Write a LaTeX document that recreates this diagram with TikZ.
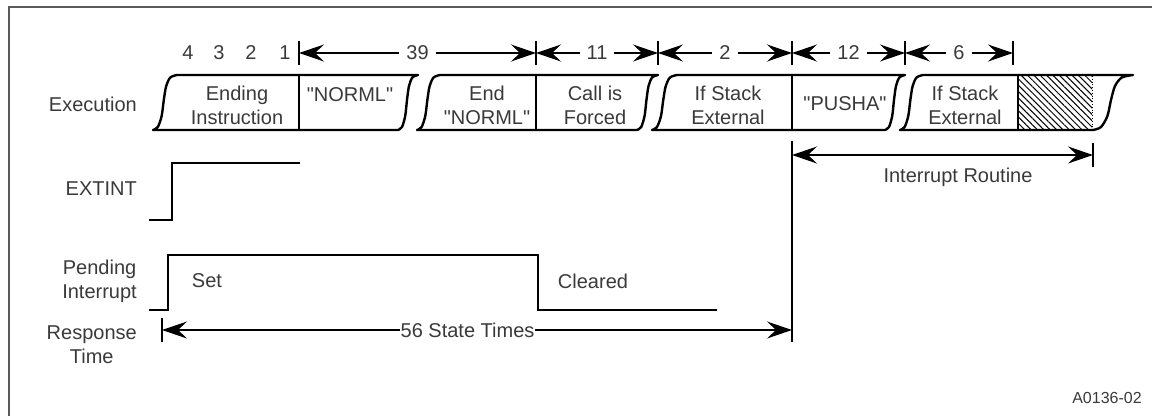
\documentclass[tikz,border=0pt]{standalone}
\usepackage{fontspec}
\setmainfont{Liberation Sans}[Ligatures=TeXOff]
\usetikzlibrary{arrows.meta,patterns.meta}
\definecolor{txt}{HTML}{3A3A3A}
\newcommand{\dq}{{\char34}}
\begin{document}
\begin{tikzpicture}[x=1pt,y=-1pt,
  lbl/.style={font=\fontsize{20}{24}\selectfont, text=txt, inner sep=0pt, align=center},
  seg/.style={line width=2.4pt, line join=round},
  divider/.style={line width=2pt},
  sig/.style={line width=2.8pt, line join=miter},
  tickline/.style={line width=1.4pt},
  dimline/.style={line width=1.4pt,
    {Stealth[length=25pt,width=17pt,inset=9pt]}-{Stealth[length=25pt,width=17pt,inset=9pt]}},
  gap/.style={fill=white, inner xsep=7pt, inner ysep=2pt}]
\useasboundingbox (0,0) rectangle (1152,416);
% frame
\draw[line width=2.6pt, black!65] (9,416) -- (9,7) -- (1152,7);

% hatched area
\fill[pattern={Lines[angle=-45,distance=4.5pt,line width=1pt]}] (1018,76) rectangle (1092,129);
\draw[line width=0.8pt, dotted] (1092,76) -- (1092,129);

% execution segments
\foreach \a/\b/\c/\d in {153/177/418/398, 417/440/658/637, 652/677/905/885, 900/923/1133/1093}{
  \draw[seg] plot[smooth,tension=.5] coordinates {(\a,130) ({\a+.2*(\b-\a)},127) ({\a+.36*(\b-\a)},116) ({\a+.45*(\b-\a)},100) ({\a+.55*(\b-\a)},86) ({\a+.72*(\b-\a)},77.5) (\b,75)}
   -- (\c,75) -- plot[smooth,tension=.5] coordinates {(\c,75) ({\d+.72*(\c-\d)},77.5) ({\d+.55*(\c-\d)},86) ({\d+.45*(\c-\d)},100) ({\d+.36*(\c-\d)},116) ({\d+.2*(\c-\d)},127) (\d,130)} -- cycle;
}
% dividers
\foreach \x in {299,536,792,1018}{\draw[divider] (\x,75) -- (\x,130);}

% texts inside
\node[lbl] (t1) at (237,105) {Ending\\Instruction};
\node[lbl] (t2) at (350,95) {\dq NORML\dq};
\node[lbl] (t3) at (487,105) {End\\\dq NORML\dq};
\node[lbl] (t4) at (595,105) {Call is\\Forced};
\node[lbl] (t5) at (728,105) {If Stack\\External};
\node[lbl] (t6) at (845,104) {\dq PUSHA\dq};
\node[lbl] (t7) at (965,105) {If Stack\\External};

% row labels
\node[lbl, anchor=east] (lex) at (137,104) {Execution};
\node[lbl, anchor=east] (lei) at (137,189) {EXTINT};
\node[lbl, anchor=east] (lpi) at (137,281) {Pending\\Interrupt};
\node[lbl, anchor=east] (lrt) at (137,345) {Response\\Time};

% top count
\node[lbl] (n4) at (188,53) {4};
\node[lbl] (n3) at (219,53) {3};
\node[lbl] (n2) at (251,53) {2};
\node[lbl] (n1) at (285,53) {1};

\coordinate (d0) at (299,53);
\coordinate (d1) at (536,53);
\coordinate (d2) at (658,53);
\coordinate (d3) at (792,53);
\coordinate (d4) at (905,53);
\coordinate (d5) at (1013,53);
\foreach \c in {d0,d1,d2,d3,d4,d5}{\draw[tickline] ([yshift=-12pt]\c) -- ([yshift=12pt]\c);}
\draw[dimline] (d0) -- (d1) node[lbl,gap,midway] (m39) {39};
\draw[dimline] (d1) -- (d2) node[lbl,gap,midway] (m11) {11};
\draw[dimline] (d2) -- (d3) node[lbl,gap,midway] (m2) {2};
\draw[dimline] (d3) -- (d4) node[lbl,gap,midway] (m12) {12};
\draw[dimline] (d4) -- (d5) node[lbl,gap,midway] (m6) {6};

% interrupt routine
\coordinate (ir0) at (792,155);
\coordinate (ir1) at (1093,155);
\coordinate (vt) at (792,141);
\coordinate (vb) at (792,342);
\draw[tickline] (vt) -- (vb);
\draw[tickline] ([yshift=-12pt]ir1) -- ([yshift=12pt]ir1);
\draw[dimline] (ir0) -- (ir1);
\node[lbl] (irl) at (958,177) {Interrupt Routine};

% EXTINT signal
\draw[sig] (149,220) -- (172,220) -- (172,163) -- (300,163);
% Pending interrupt signal
\draw[sig] (149,310) -- (168,310) -- (168,255) -- (538,255) -- (538,310) -- (717,310);
\node[lbl] (set) at (207,281) {Set};
\node[lbl] (clr) at (593,281) {Cleared};

% response time
\coordinate (r0) at (162,330);
\coordinate (r1) at (792,330);
\draw[tickline] ([yshift=-12pt]r0) -- ([yshift=12pt]r0);
\draw[dimline] (r0) -- (r1) node[lbl,fill=white,inner xsep=1pt,inner ysep=2pt,pos=0.485] (st) {56 State Times};

\node[lbl, font=\fontsize{16}{18}\selectfont] (code) at (1107,398) {A0136-02};
\end{tikzpicture}
\end{document}
